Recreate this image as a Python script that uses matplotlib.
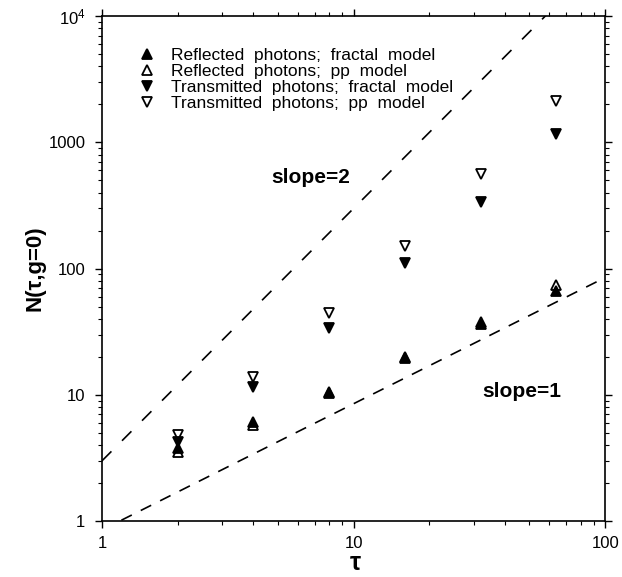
import matplotlib
matplotlib.use("Agg")
import matplotlib.pyplot as plt
from matplotlib.ticker import FixedLocator, FixedFormatter

plt.rcParams['font.family'] = ['Liberation Sans', 'DejaVu Sans']
plt.rcParams['mathtext.fontset'] = 'custom'
plt.rcParams['mathtext.rm'] = 'Liberation Sans'
plt.rcParams['mathtext.default'] = 'rm'

# photon counts
tau = [2, 4, 8, 16, 32, 64]
refl_fractal = [3.8, 6.1, 10.4, 19.5, 36.5, 67]
refl_pp = [3.5, 5.8, 10.6, 19.8, 37.5, 74]
trans_fractal = [4.25, 11.6, 33.8, 110, 340, 1170]
trans_pp = [4.8, 13.8, 44.5, 151, 560, 2120]

# reference power-law guides
guide_tau = [1, 100]
slope2_n = [3.0, 30000.0]
slope1_n = [0.85, 85.0]

yticks = [1, 10, 100, 1000, 10000]
ytick_labels = ['1', '10', '100', '1000', r'$10^4$']
xticks = [1, 10, 100]
xtick_labels = ['1', '10', '100']

fig = plt.figure(figsize=(6.22, 5.77), dpi=100)
ax = fig.add_axes([0.164, 0.097, 0.809, 0.875])

ax.plot(guide_tau, slope2_n, color='k', lw=1.2, linestyle=(0, (8, 9)))
ax.plot(guide_tau, slope1_n, color='k', lw=1.2, linestyle=(0, (7, 6)))

mk = dict(linestyle='', markersize=7, markeredgewidth=1.3, markeredgecolor='k')
ax.plot(tau, refl_fractal, marker='^', color='k', label='Reflected  photons;  fractal  model', **mk)
ax.plot(tau, refl_pp, marker='^', markerfacecolor='none', color='k', label='Reflected  photons;  pp  model', **mk)
ax.plot(tau, trans_fractal, marker='v', color='k', label='Transmitted  photons;  fractal  model', **mk)
ax.plot(tau, trans_pp, marker='v', markerfacecolor='none', color='k', label='Transmitted  photons;  pp  model', **mk)

ax.set_xscale('log')
ax.set_yscale('log')
ax.set_xlim(1, 100)
ax.set_ylim(1, 10000)

ax.yaxis.set_major_locator(FixedLocator(yticks))
ax.yaxis.set_major_formatter(FixedFormatter(ytick_labels))
ax.xaxis.set_major_locator(FixedLocator(xticks))
ax.xaxis.set_major_formatter(FixedFormatter(xtick_labels))

ax.tick_params(which='both', direction='out', top=True, right=True, labelsize=12)
ax.tick_params(which='major', length=5, width=1)
ax.tick_params(which='minor', length=3, width=0.8)
ax.tick_params(axis='y', pad=7)
ax.tick_params(axis='x', pad=6)
for s in ax.spines.values():
    s.set_linewidth(1.2)

ax.text(4.7, 530, 'slope=2', fontsize=15, fontweight='bold', va='center', ha='left')
ax.text(32.6, 10.6, 'slope=1', fontsize=15, fontweight='bold', va='center', ha='left')

ax.set_xlabel('τ', fontsize=18, fontweight='bold')
ax.xaxis.set_label_coords(0.503, -0.06)
ax.set_ylabel('N(τ,g=0)', fontsize=16, fontweight='bold')
ax.yaxis.set_label_coords(-0.113, 0.5)

ax.legend(loc='upper left', bbox_to_anchor=(0.072, 0.938), frameon=False, fontsize=12.5,
          handlelength=1.0, handletextpad=0.9, labelspacing=0.05, borderpad=0.0,
          borderaxespad=0.0)

fig.savefig('out.png', dpi=100)
